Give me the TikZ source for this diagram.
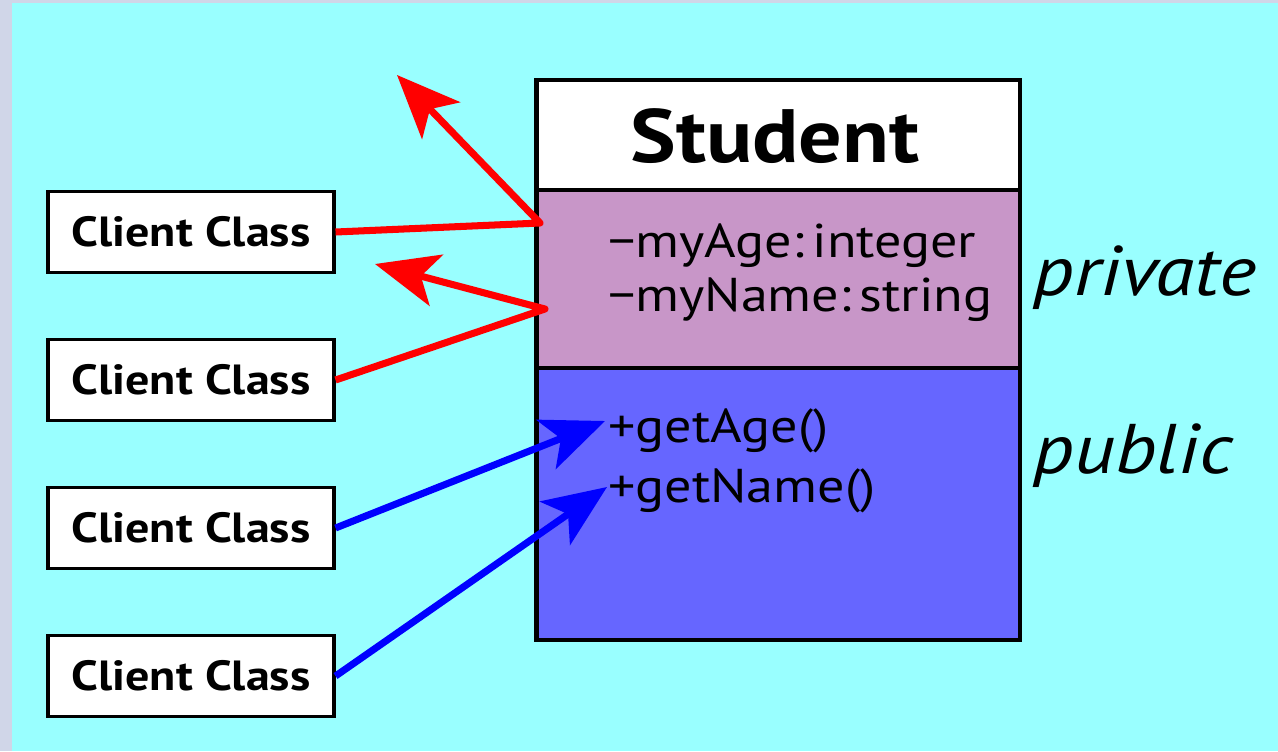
\documentclass[tikz,border=0pt]{standalone}
\usepackage{fontspec}
\setmainfont[FakeStretch=1.14]{PT Sans}
\usetikzlibrary{arrows.meta}
\definecolor{bgcyan}{HTML}{99FFFF}
\definecolor{edgegrey}{HTML}{D0D6E8}
\definecolor{privpurple}{HTML}{C896C8}
\definecolor{pubblue}{HTML}{6666FF}
\definecolor{arrred}{HTML}{FF0000}
\definecolor{arrblue}{HTML}{0000FF}
\begin{document}
\begin{tikzpicture}[x=0.02cm,y=-0.02cm,
  client/.style={draw=black,line width=1.8pt,fill=white,inner sep=0pt,
    minimum width=5.72cm,minimum height=1.62cm,
    font=\fontsize{24}{28}\selectfont\bfseries},
  section/.style={draw=black,line width=2.8pt,inner sep=0pt,minimum width=9.68cm},
  member/.style={anchor=base west,inner sep=0pt,font=\fontsize{27}{31}\selectfont},
  vis/.style={anchor=base west,inner sep=0pt,font=\fontsize{40}{46}\selectfont\itshape},
  conn/.style={line width=4pt,line join=round,
    -{Stealth[length=36pt,width=30pt,inset=9pt]}}]
\useasboundingbox (0,0) rectangle (1278,751);
\fill[edgegrey] (0,0) rectangle (1278,751);
\fill[bgcyan] (12,3) rectangle (1278,751);
% Student class box
\node[section,fill=white,minimum height=2.2cm] (title) at (778,135) {};
\node[section,fill=privpurple,minimum height=3.56cm] (priv) at (778,279) {};
\node[section,fill=pubblue,minimum height=5.44cm] (pub) at (778,504) {};
\node[anchor=base,inner sep=0pt,font=\fontsize{43}{49}\selectfont\bfseries] (tname) at (775,162) {Student};
\node[member] (m1) at (608,257) {−myAge:\kern0.18em integer};
\node[member] (m2) at (608,311) {−myName:\kern0.18em string};
\node[member] (m3) at (608,442) {+getAge()};
\node[member] (m4) at (608,502) {+getName()};
\node[vis] (vpriv) at (1033,295) {private};
\node[vis] (vpub) at (1033,473) {public};
% clients
\node[client] (c1) at (191,232) {Client Class};
\node[client] (c2) at (191,380) {Client Class};
\node[client] (c3) at (191,528) {Client Class};
\node[client] (c4) at (191,676) {Client Class};
% connector points
\coordinate (b1) at (540,223);
\coordinate (t1) at (397,75);
\coordinate (b2) at (545,309);
\coordinate (t2) at (375,264);
\coordinate (t3) at (605,421);
\coordinate (t4) at (607,487);
\draw[conn,arrred] (c1.east) -- (b1) -- (t1);
\draw[conn,arrred] (c2.east) -- (b2) -- (t2);
\draw[conn,arrblue] (c3.east) -- (t3);
\draw[conn,arrblue] (c4.east) -- (t4);
\end{tikzpicture}
\end{document}
